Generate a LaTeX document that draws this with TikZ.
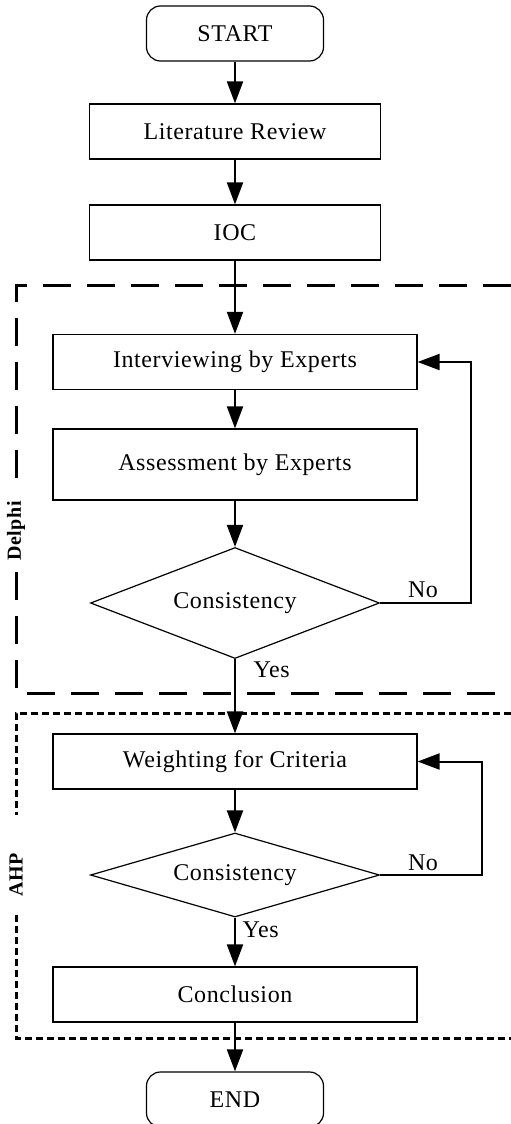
\documentclass[tikz,border=0pt]{standalone}
\usepackage{fontspec}
\setmainfont{Liberation Serif}[LetterSpace=2.5]
\usetikzlibrary{shapes.geometric,arrows.meta}

\begin{document}
\begin{tikzpicture}
  [x={(1pt,0pt)},y={(0pt,-1pt)},
   every node/.style={draw,line width=1.2pt,inner sep=0pt,
     font=\fontsize{24}{28}\selectfont},
   term/.style={rounded corners=14pt,minimum width=177pt,minimum height=55pt},
   short/.style={minimum width=291pt,minimum height=55pt},
   long/.style={minimum width=364pt,minimum height=55pt},
   test/.style={diamond,minimum width=289pt},
   tag/.style={draw=none},
   part/.style={draw=none,rotate=90,font=\fontsize{20}{24}\selectfont\bfseries},
   flow/.style={line width=2pt,-{Triangle[length=22pt,width=16pt]}},
   delphiframe/.style={line width=3pt,dash pattern=on 28pt off 16pt},
   ahpframe/.style={line width=3pt,dash pattern=on 7pt off 4pt}]

  \useasboundingbox (0,0) rectangle (511,1124);

  % frames
  \draw [delphiframe] (511,285) -- (16,285) -- (16,490);
  \draw [delphiframe] (16,572) -- (16,693) -- (511,693);
  \node [part] (delphi) at (16,531) {Delphi};
  \draw [ahpframe] (511,713) -- (16,713) -- (16,815);
  \draw [ahpframe] (16,915) -- (16,1038) -- (511,1038);
  \node [part] (ahp) at (16,875) {AHP};

  \node [term] (start) at (235,33.5) {START};
  \node [short] (lit) at (235,131.5) {Literature Review};
  \node [short] (ioc) at (235,232.5) {IOC};
  \node [long] (interview) at (235,362) {Interviewing by Experts};
  \node [long,minimum height=71pt] (assess) at (235,464.5) {Assessment by Experts};
  \node [test,shape aspect=2.6,minimum height=111pt] (check1) at (235,603) {Consistency};
  \node [long] (weight) at (235,761.5) {Weighting for Criteria};
  \node [test,shape aspect=3.4,minimum height=84pt] (check2) at (235,875) {Consistency};
  \node [long] (concl) at (235,994.5) {Conclusion};
  \node [term] (end) at (235,1099.5) {END};

  \coordinate (back1) at (471,603);
  \coordinate (back2) at (482,875);

  \draw [flow] (start) -- (lit);
  \draw [flow] (lit) -- (ioc);
  \draw [flow] (ioc) -- (interview);
  \draw [flow] (interview) -- (assess);
  \draw [flow] (assess) -- (check1);
  \draw [flow] (check1) -- (weight);
  \draw [flow] (weight) -- (check2);
  \draw [flow] (check2) -- (concl);
  \draw [flow] (concl) -- (end);
  \draw [flow] (check1.east) -- (back1) |- (interview.east);
  \draw [flow] (check2.east) -- (back2) |- (weight.east);

  \node [tag] (no1) at (423,590) {No};
  \node [tag,anchor=west] (yes1) at (253,670) {Yes};
  \node [tag] (no2) at (423,863) {No};
  \node [tag,anchor=west] (yes2) at (242,930) {Yes};
\end{tikzpicture}
\end{document}
